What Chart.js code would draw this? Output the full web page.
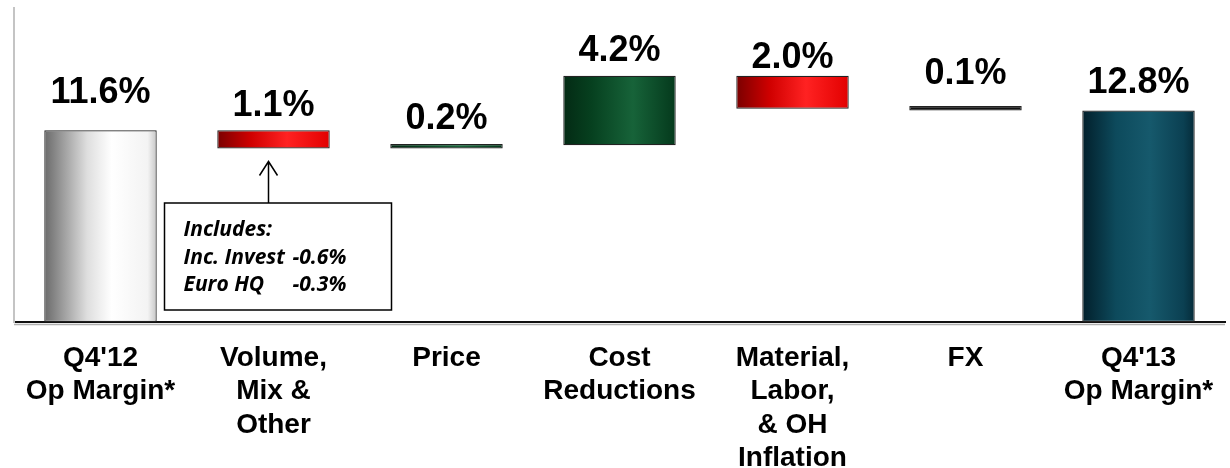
<!DOCTYPE html>
<html>
<head>
<meta charset="utf-8">
<script src="https://cdn.jsdelivr.net/npm/chart.js@4.4.0/dist/chart.umd.min.js"></script>
<style>
  html, body { margin: 0; padding: 0; background: #fff; }
  #wrap { width: 1230px; height: 468px; }
</style>
</head>
<body>
<div id="wrap"><canvas id="marginChart"></canvas></div>
<script>
const categories = [
    ["Q4'12", "Op Margin*"],
    ["Volume,", "Mix &", "Other"],
    "Price",
    ["Cost", "Reductions"],
    ["Material,", "Labor,", "& OH", "Inflation"],
    "FX",
    ["Q4'13", "Op Margin*"]
];
const startMargin = 11.6;
const changes = [-1.1, 0.2, 4.2, -2.0, -0.1];
const endMargin = 12.8;
const calloutTitle = "Includes:";
const calloutItems = ["Inc. Invest", "Euro HQ"];
const calloutValues = ["-0.6%", "-0.3%"];

// waterfall: each step floats from the running total
let running = startMargin;
const ranges = [[0, startMargin]];
const amounts = [startMargin];
changes.forEach(c => {
    const next = +(running + c).toFixed(1);
    ranges.push([Math.min(running, next), Math.max(running, next)]);
    amounts.push(Math.abs(c));
    running = next;
});
ranges.push([0, endMargin]);
amounts.push(endMargin);

const grey = [[0, '#6a6a6a'], [0.38, '#dedede'], [0.6, '#ffffff'], [0.92, '#f3f3f3'], [1, '#c6c6c6']];
const red = [[0, '#7a0000'], [0.3, '#d00000'], [0.62, '#ff2222'], [1, '#e20000']];
const green = [[0, '#032a14'], [0.25, '#06401f'], [0.62, '#176339'], [1, '#04391c']];
const black = [[0, '#111'], [1, '#111']];
const teal = [[0, '#021f2b'], [0.3, '#0d4a5c'], [0.6, '#16596c'], [0.9, '#0b4052'], [1, '#052b39']];
const fills = [grey, red, green, green, red, black, teal];
const lift = [27, 14, 15, 15, 8, 22, 17];
const BAR_PCT = 0.65;

// horizontal "cylinder" shading, one gradient per bar
function barFill(context) {
    const chart = context.chart;
    const stops = fills[context.dataIndex] || black;
    const xs = chart.scales.x;
    if (!chart.chartArea || !xs) return stops[0][1];
    const center = xs.getPixelForValue(context.dataIndex);
    const half = xs.width / categories.length * BAR_PCT / 2;
    const g = chart.ctx.createLinearGradient(center - half, 0, center + half, 0);
    stops.forEach(s => g.addColorStop(s[0], s[1]));
    return g;
}

const waterfallLook = {
    id: 'waterfallLook',
    afterDatasetsDraw(chart) {
        const ctx = chart.ctx;
        const meta = chart.getDatasetMeta(0);
        const area = chart.chartArea;
        ctx.save();

        // shadow under the x axis line
        ctx.strokeStyle = '#b0b0b0';
        ctx.lineWidth = 1.5;
        ctx.beginPath();
        ctx.moveTo(area.left, area.bottom + 2.5);
        ctx.lineTo(area.right, area.bottom + 2.5);
        ctx.stroke();

        ctx.fillStyle = '#000';
        ctx.font = 'bold 36px "Liberation Sans", Arial, sans-serif';
        ctx.textAlign = 'center';
        ctx.textBaseline = 'alphabetic';
        meta.data.forEach((bar, i) => {
            const top = Math.min(bar.y, bar.base);
            ctx.fillText(amounts[i].toFixed(1) + '%', bar.x, top - lift[i]);
        });

        // callout under the volume bar
        const vol = meta.data[1];
        const boxL = vol.x - 109, boxR = vol.x + 118;
        const boxB = area.bottom - 12, boxT = boxB - 107;
        const ax = vol.x - 5;
        const tip = Math.max(vol.y, vol.base) + 13;
        ctx.strokeStyle = '#000';
        ctx.lineWidth = 1.5;
        ctx.fillStyle = '#fff';
        ctx.fillRect(boxL, boxT, boxR - boxL, boxB - boxT);
        ctx.strokeRect(boxL, boxT, boxR - boxL, boxB - boxT);
        ctx.beginPath();
        ctx.moveTo(ax, boxT);
        ctx.lineTo(ax, tip);
        ctx.moveTo(ax - 9, tip + 14);
        ctx.lineTo(ax, tip);
        ctx.lineTo(ax + 9, tip + 14);
        ctx.stroke();

        ctx.fillStyle = '#000';
        ctx.font = 'italic bold 21px "Open Sans", Lato, sans-serif';
        ctx.textAlign = 'left';
        ctx.fillText(calloutTitle, boxL + 19, boxT + 33);
        calloutItems.forEach((t, i) => {
            ctx.fillText(t, boxL + 19, boxT + 61 + i * 27);
            ctx.fillText(calloutValues[i], boxL + 128, boxT + 61 + i * 27);
        });
        ctx.restore();
    }
};

const marginChart = new Chart(document.getElementById('marginChart'), {
    type: 'bar',
    data: {
        labels: categories,
        datasets: [{
            data: ranges,
            backgroundColor: barFill,
            borderColor: '#222',
            borderWidth: 1.2,
            borderSkipped: false,
            minBarLength: 4.5,
            categoryPercentage: 1,
            barPercentage: BAR_PCT
        }]
    },
    options: {
        responsive: true,
        maintainAspectRatio: false,
        animation: false,
        layout: { padding: { top: 8, right: 5, bottom: 0, left: 0 } },
        plugins: {
            legend: { display: false },
            tooltip: { enabled: false }
        },
        scales: {
            x: {
                grid: { display: false },
                border: { color: '#111', width: 2 },
                ticks: {
                    color: '#000',
                    padding: 11,
                    maxRotation: 0,
                    autoSkip: false,
                    font: { family: '"Liberation Sans", Arial, sans-serif', size: 28, weight: 'bold', lineHeight: 1.2 }
                },
                afterFit: (scale) => { scale.height = 146; }
            },
            y: {
                min: 0,
                max: 19,
                grid: { display: false },
                border: { color: '#c4c4c4', width: 2 },
                ticks: { display: false },
                afterFit: (scale) => { scale.width = 14; }
            }
        }
    },
    plugins: [waterfallLook]
});
</script>
</body>
</html>
